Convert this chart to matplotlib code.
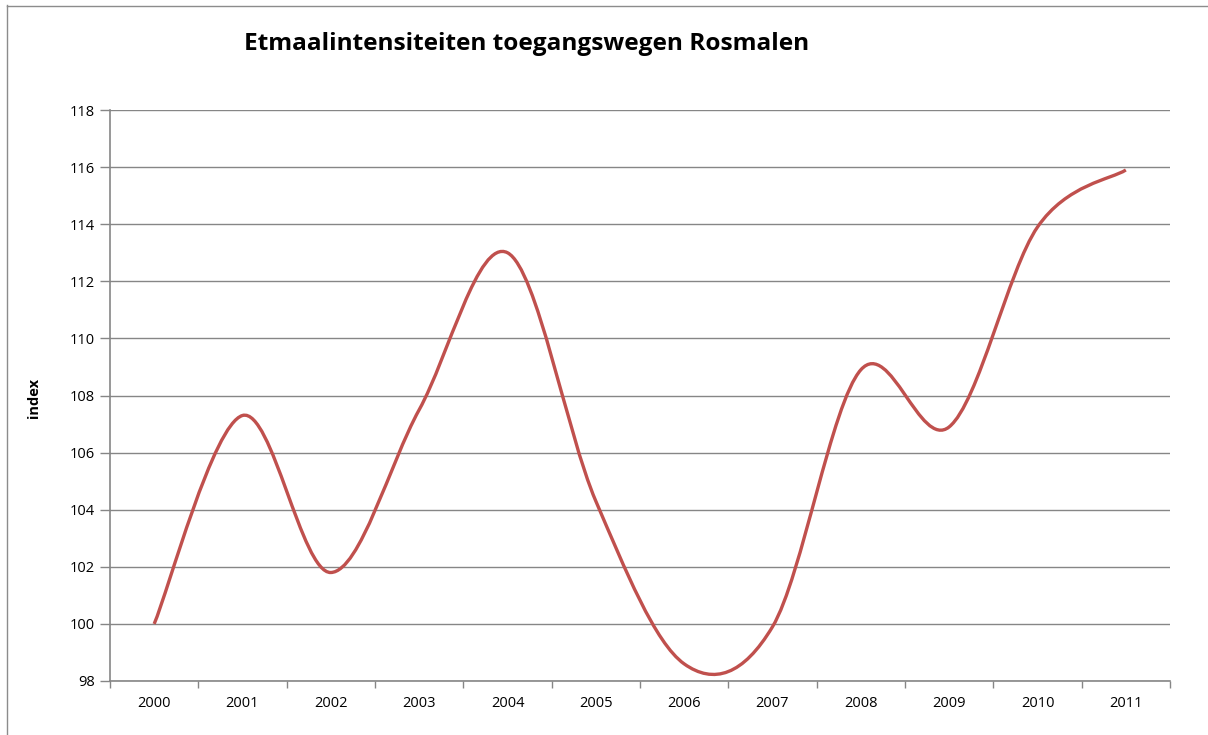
import numpy as np
import matplotlib
matplotlib.use("Agg")
import matplotlib.pyplot as plt
from matplotlib.path import Path
import matplotlib.patches as patches

plt.rcParams['font.family'] = ['Open Sans', 'DejaVu Sans']

years = ['2000', '2001', '2002', '2003', '2004', '2005',
         '2006', '2007', '2008', '2009', '2010', '2011']
index_values = [100.0, 107.3, 101.8, 107.5, 113.0, 104.3,
                98.6, 99.9, 108.9, 106.9, 113.9, 115.9]
y_ticks = [98, 100, 102, 104, 106, 108, 110, 112, 114, 116, 118]

LINE_COLOR = '#C0504D'
GRID_COLOR = '#868686'


def smooth_path(xs, ys):
    # excel-like smoothed line: bezier segments with catmull-rom control points
    pts = np.column_stack([xs, ys])
    n = len(pts)
    verts = [pts[0]]
    codes = [Path.MOVETO]
    for i in range(n - 1):
        p0 = pts[i - 1] if i > 0 else pts[i]
        p1 = pts[i]
        p2 = pts[i + 1]
        p3 = pts[i + 2] if i + 2 < n else pts[i + 1]
        c1 = p1 + (p2 - p0) / 6.0
        c2 = p2 - (p3 - p1) / 6.0
        verts += [c1, c2, p2]
        codes += [Path.CURVE4] * 3
    return Path(verts, codes)


fig = plt.figure(figsize=(12.08, 7.35), dpi=100)
ax = fig.add_axes([110 / 1208, 1 - 681 / 735, (1170 - 110) / 1208, (681 - 110) / 735])

x = np.arange(len(years))
ax.add_patch(patches.PathPatch(smooth_path(x, index_values), facecolor='none',
                               edgecolor=LINE_COLOR, lw=2.4, capstyle='butt'))

ax.set_xlim(-0.5, len(years) - 0.5)
ax.set_ylim(98, 118)
ax.set_yticks(y_ticks)
ax.set_yticklabels([str(v) for v in y_ticks], fontsize=10.5)
ax.set_xticks(x)
ax.set_xticklabels(years, fontsize=10.5)
ax.set_xticks(np.arange(-0.5, len(years)), minor=True)
ax.tick_params(axis='x', which='major', length=0, pad=11)
ax.tick_params(axis='x', which='minor', length=5, color=GRID_COLOR, width=1)
ax.tick_params(axis='y', length=7, color=GRID_COLOR, width=1, pad=4)

ax.grid(axis='y', color=GRID_COLOR, lw=1)
ax.set_axisbelow(True)
for s in ['top', 'right']:
    ax.spines[s].set_visible(False)
for s in ['left', 'bottom']:
    ax.spines[s].set_color(GRID_COLOR)
    ax.spines[s].set_linewidth(1.2)

fig.text(34 / 1208, 1 - 398 / 735, 'index', rotation=90, fontsize=10.5,
         fontweight='bold', ha='center', va='center')
fig.text(527 / 1208, 1 - 44 / 735, 'Etmaalintensiteiten toegangswegen Rosmalen',
         fontsize=17.6, fontweight='bold', ha='center', va='center')

# chart frame (only left/top edges visible in crop)
fig.add_artist(plt.Line2D([6.5 / 1208, 6.5 / 1208], [0, 1 - 5 / 735], color='#8c8c8c', lw=1))
fig.add_artist(plt.Line2D([6.5 / 1208, 1], [1 - 5.5 / 735, 1 - 5.5 / 735], color='#8c8c8c', lw=1))

fig.savefig('out.png', dpi=100)
